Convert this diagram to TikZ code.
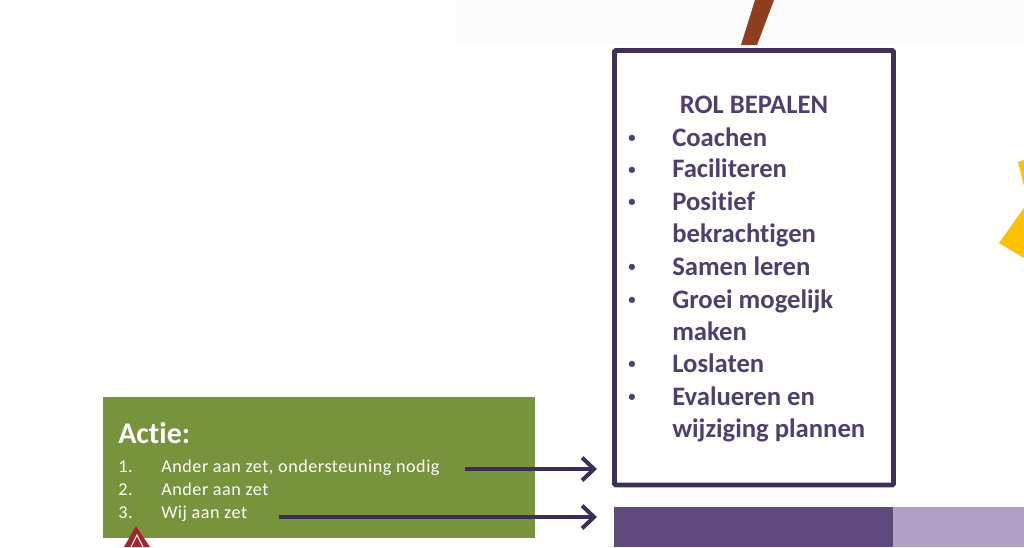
\documentclass[tikz,border=0pt]{standalone}
\usepackage{fontspec}
\setmainfont{Carlito}[Ligatures=NoCommon,RawFeature=-liga]
\newfontfamily\actfont{Carlito}[Ligatures=NoCommon,RawFeature=-liga,LetterSpace=3]
\usetikzlibrary{arrows.meta}
\definecolor{boxline}{HTML}{3E3057}
\definecolor{rolText}{HTML}{4F3F70}
\definecolor{actGreen}{HTML}{77933C}
\definecolor{arrowPurple}{HTML}{3B2D58}
\definecolor{barDark}{HTML}{604A7B}
\definecolor{barLight}{HTML}{B2A1C7}
\definecolor{sunYellow}{HTML}{FFC000}
\definecolor{stickBrown}{HTML}{8E3E1C}
\definecolor{redArrow}{HTML}{A3262C}
\begin{document}
\begin{tikzpicture}[x=0.75pt,y=-0.75pt,
  roltxt/.style={anchor=base west,inner sep=0pt,text=rolText,font=\fontsize{20}{24}\selectfont\bfseries},
  rolbul/.style={anchor=center,inner sep=0pt,text=rolText,font=\fontsize{11}{13}\selectfont\bfseries},
  acttxt/.style={anchor=base west,inner sep=0pt,text=white,font=\actfont\fontsize{13.6}{16}\selectfont},
  flowarrow/.style={draw=arrowPurple,line width=3pt,-{Straight Barb[length=9pt,width=17pt,line width=3pt]}}
]
\useasboundingbox (0,0) rectangle (1024,547);
% faint background of the top image
\fill[black!1] (455,0) rectangle (1024,45);
% brown stick
\fill[stickBrown] (741,45) -- (757,45) -- (774,0) -- (755,0) -- cycle;
% yellow shapes
\fill[sunYellow] (999,243) -- (1024,208) -- (1024,258) -- cycle;
\fill[sunYellow] (1018,162) -- (1024,160) -- (1024,186) -- cycle;
% purple box
\node[draw=boxline,line width=3.6pt,rounded corners=1pt,minimum width=279*0.75pt,minimum height=434.5*0.75pt,anchor=north west,inner sep=0pt,outer sep=0pt] (rol) at (614.5,50.5) {};
\node[anchor=base,inner sep=0pt,text=rolText,font=\fontsize{20}{24}\selectfont\bfseries] (title) at (754,113) {ROL BEPALEN};
\node[rolbul] (b1) at (632,139) {•};
\node[roltxt] (t1) at (672,146) {Coachen};
\node[rolbul] (b2) at (632,171) {•};
\node[roltxt] (t2) at (672,177) {Faciliteren};
\node[rolbul] (b3) at (632,203) {•};
\node[roltxt] (t3) at (672,210) {Positief};
\node[roltxt] (t3b) at (672,242) {bekrachtigen};
\node[rolbul] (b4) at (632,268) {•};
\node[roltxt] (t4) at (672,275) {Samen leren};
\node[rolbul] (b5) at (632,301) {•};
\node[roltxt] (t5) at (672,308) {Groei mogelijk};
\node[roltxt] (t5b) at (672,340) {maken};
\node[rolbul] (b6) at (632,365) {•};
\node[roltxt] (t6) at (672,372) {Loslaten};
\node[rolbul] (b7) at (632,398) {•};
\node[roltxt] (t7) at (672,405) {Evalueren en};
\node[roltxt] (t7b) at (672,437) {wijziging plannen};
% bottom bars
\fill[barDark] (614,507) rectangle (893,547);
\fill[barLight] (893,507) rectangle (1024,547);
\coordinate (barTop) at (597,517);
\coordinate (boxLeft) at (597,469);
% green action box
\node[fill=actGreen,minimum width=432*0.75pt,minimum height=141*0.75pt,anchor=north west,inner sep=0pt,outer sep=0pt] (actie) at (103,397) {};
\node[anchor=base west,inner sep=0pt,text=white,font=\fontsize{22.5}{26}\selectfont\bfseries] (acttitle) at (118,443) {Actie:};
\node[acttxt] (n1) at (118,472) {1.};
\node[acttxt] (i1) at (161,472) {Ander aan zet, ondersteuning nodig};
\node[acttxt] (n2) at (118,495) {2.};
\node[acttxt] (i2) at (161,495) {Ander aan zet};
\node[acttxt] (n3) at (118,518) {3.};
\node[acttxt] (i3) at (161,518) {Wij aan zet};
% arrows
\coordinate (a1s) at (465,469);
\coordinate (a2s) at (279,517);
\draw[flowarrow] (a1s) -- (boxLeft);
\draw[flowarrow] (a2s) -- (barTop);
% red arrow head at bottom left
\fill[redArrow] (124,547) -- (136,526) -- (150,547) -- cycle;
\draw[white,line width=0.8pt] (131,547) -- (137,535) -- (143,547);
\end{tikzpicture}
\end{document}
